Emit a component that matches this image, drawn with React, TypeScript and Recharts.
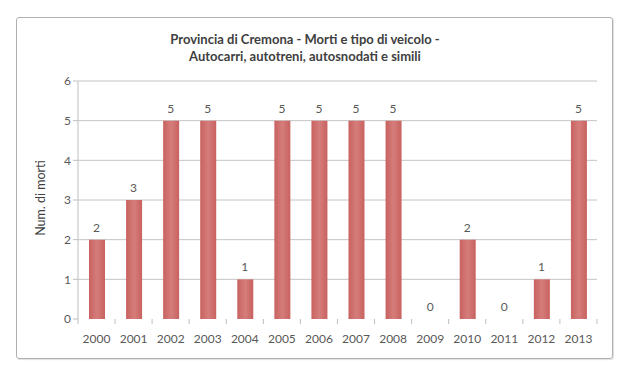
import React from 'react';
import { ComposedChart, Bar, Line, XAxis, YAxis, CartesianGrid, LabelList } from 'recharts';

const years = ['2000', '2001', '2002', '2003', '2004', '2005', '2006', '2007', '2008', '2009', '2010', '2011', '2012', '2013'];
const deaths = [2, 3, 5, 5, 1, 5, 5, 5, 5, 0, 2, 0, 1, 5];
const yTicks = [0, 1, 2, 3, 4, 5, 6];
const gridValues = [1, 2, 3, 4, 5, 6];

const data = years.map((year, i) => ({ year, deaths: deaths[i] }));

const FONT = 'Lato, "Open Sans", sans-serif';
const BAND = 37;

// x tick: label under the category, small tick mark on the category's right edge
const YearTick = (props: any) => {
  const { x, y, payload, index } = props;
  return (
    <g>
      {index === 0 && <line x1={x - BAND / 2} x2={x - BAND / 2} y1={y - 8} y2={y - 3} stroke="#bfbfbf" />}
      <line x1={x + BAND / 2} x2={x + BAND / 2} y1={y - 8} y2={y - 3} stroke="#bfbfbf" />
      <text x={x} y={y + 16} textAnchor="middle" fill="#595959" fontSize={12} fontFamily={FONT}>
        {payload.value}
      </text>
    </g>
  );
};

// value label drawn from the line points so zero values get one too
const ValueLabel = (props: any) => {
  const { x, y, value } = props;
  return (
    <text x={x} y={y - 8} textAnchor="middle" fill="#595959" fontSize={12} fontFamily={FONT}>
      {value}
    </text>
  );
};

export default function App() {
  return (
    <div style={{ position: 'absolute', left: 0, top: 0, width: 630, height: 379, background: '#fff' }}>
      <div
        style={{
          position: 'absolute', left: 16, top: 17, width: 595, height: 340,
          border: '1px solid #b0b0b0', borderRadius: 3, boxShadow: '1px 1px 1px #e0e0e0',
        }}
      />
      <div
        style={{
          position: 'absolute', left: 0, top: 31, width: 610, textAlign: 'center',
          fontFamily: FONT, fontWeight: 'bold', fontSize: 13, lineHeight: '17px', color: '#404040',
        }}
      >
        <div>Provincia di Cremona - Morti e tipo di veicolo -</div>
        <div>Autocarri, autotreni, autosnodati e simili</div>
      </div>
      <div style={{ position: 'absolute', left: 0, top: 0 }}>
        <ComposedChart width={630} height={379} data={data} margin={{ top: 81, right: 33, bottom: 30, left: 38 }} barSize={16}>
          <defs>
            <linearGradient id="barFill" x1="0" y1="0" x2="1" y2="0">
              <stop offset="0%" stopColor="#c86260" />
              <stop offset="50%" stopColor="#d57d7b" />
              <stop offset="100%" stopColor="#c86260" />
            </linearGradient>
          </defs>
          <CartesianGrid vertical={false} stroke="#c4c4c4" horizontalValues={gridValues} />
          <XAxis
            dataKey="year"
            axisLine={false}
            tickLine={false}
            interval={0}
            height={30}
            tick={<YearTick />}
          />
          <YAxis
            width={40}
            domain={[0, 6]}
            ticks={yTicks}
            axisLine={{ stroke: '#bfbfbf' }}
            tickLine={{ stroke: '#bfbfbf' }}
            tickSize={5}
            tick={{ fill: '#595959', fontSize: 12, fontFamily: FONT }}
          />
          <text
            x={45}
            y={198}
            transform="rotate(-90 45 198)"
            textAnchor="middle"
            fill="#404040"
            fontSize={12.5}
            fontFamily={FONT}
          >
            Num. di morti
          </text>
          <Bar dataKey="deaths" fill="url(#barFill)" isAnimationActive={false} />
          <Line dataKey="deaths" stroke="none" dot={false} activeDot={false} isAnimationActive={false}>
            <LabelList dataKey="deaths" content={<ValueLabel />} />
          </Line>
        </ComposedChart>
      </div>
    </div>
  );
}
